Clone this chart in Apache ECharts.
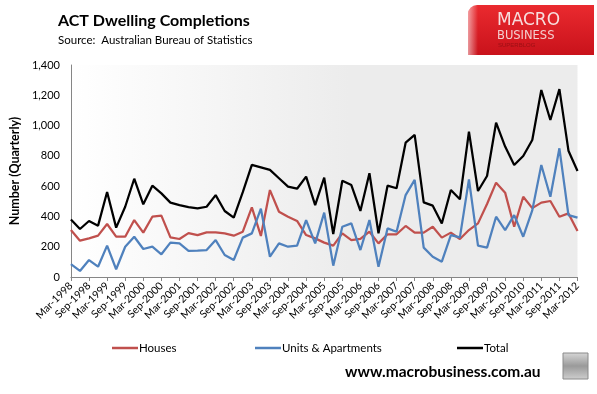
<!DOCTYPE html>
<html><head><meta charset="utf-8">
<script src="https://cdn.jsdelivr.net/npm/echarts@6/dist/echarts.min.js"></script>
<style>html,body{margin:0;padding:0;background:#fff}#c{width:597px;height:394px}</style>
</head><body><div id="c"></div>
<script>
const categories = ["Mar-1998","Jun-1998","Sep-1998","Dec-1998","Mar-1999","Jun-1999","Sep-1999","Dec-1999",
"Mar-2000","Jun-2000","Sep-2000","Dec-2000","Mar-2001","Jun-2001","Sep-2001","Dec-2001",
"Mar-2002","Jun-2002","Sep-2002","Dec-2002","Mar-2003","Jun-2003","Sep-2003","Dec-2003",
"Mar-2004","Jun-2004","Sep-2004","Dec-2004","Mar-2005","Jun-2005","Sep-2005","Dec-2005",
"Mar-2006","Jun-2006","Sep-2006","Dec-2006","Mar-2007","Jun-2007","Sep-2007","Dec-2007",
"Mar-2008","Jun-2008","Sep-2008","Dec-2008","Mar-2009","Jun-2009","Sep-2009","Dec-2009",
"Mar-2010","Jun-2010","Sep-2010","Dec-2010","Mar-2011","Jun-2011","Sep-2011","Dec-2011","Mar-2012"];
const houses = [310,240,255,273,350,266,266,376,293,398,405,262,251,290,
277,295,295,288,273,299,460,271,574,431,398,370,277,255,
227,207,288,244,251,299,222,282,282,337,293,293,332,260,
293,251,310,354,482,623,557,332,530,455,491,502,398,420,304];
const units = [85,40,112,68,207,51,200,266,185,200,150,227,222,172,
174,178,244,145,112,260,288,451,134,222,200,207,376,222,
425,75,332,354,178,376,68,321,299,541,641,194,134,101,
277,262,645,207,194,398,310,409,266,440,740,530,850,409,392];
const total = [380,317,370,339,561,326,464,649,480,603,552,491,475,462,
453,464,541,436,392,560,740,724,707,652,597,583,663,475,
656,284,636,607,436,685,289,603,586,887,938,493,471,354,
575,513,960,568,667,1019,861,740,799,905,1235,1037,1241,834,700];
const seriesNames = ["Houses","Units & Apartments","Total"];
const seriesColors = ["#c0504d","#4f81bd","#000000"];
const yTicks = {min:0, max:1400, interval:200};

const F = "Lato, 'Open Sans', sans-serif";
const chart = echarts.init(document.getElementById('c'), null, {renderer:'canvas'});
const legendLefts = [107, 250, 452];
chart.setOption({
  animation:false,
  backgroundColor:'#fff',
  title:{text:'ACT Dwelling Completions', subtext:'Source:  Australian Bureau of Statistics',
    left:53, top:8, itemGap:5,
    textStyle:{fontFamily:F, fontWeight:'bold', fontSize:16, color:'#000'},
    subtextStyle:{fontFamily:F, fontSize:11.5, color:'#000'}},
  legend: seriesNames.map((n,i)=>({data:[n], left:legendLefts[i], top:337, icon:'rect',
    itemWidth:26, itemHeight:2.5, textStyle:{fontFamily:F, fontSize:11.5, color:'#000', padding:[0,0,0,-4]}})),
  grid:{left:66.7, right:19.5, top:65, bottom:117, show:true, borderWidth:0,
    backgroundColor:new echarts.graphic.LinearGradient(0,0,1,0,[{offset:0,color:'#ffffff'},{offset:0.55,color:'#ececec'},{offset:1,color:'#ececec'}])},
  xAxis:{type:'category', data:categories, boundaryGap:false,
    axisLine:{lineStyle:{color:'#868686', width:1}},
    axisTick:{interval:1, length:4, lineStyle:{color:'#868686'}},
    axisLabel:{interval:1, rotate:45, margin:7, fontFamily:F, fontSize:10.5, color:'#000'},
    splitLine:{show:false}},
  yAxis:{type:'value', min:yTicks.min, max:yTicks.max, interval:yTicks.interval,
    name:'Number (Quarterly)', nameLocation:'middle', nameGap:47,
    nameTextStyle:{fontFamily:F, fontWeight:'bold', fontSize:12.5, color:'#000'},
    axisLine:{show:true, lineStyle:{color:'#868686', width:1}},
    axisTick:{show:false},
    axisLabel:{margin:11, fontFamily:F, fontSize:11, color:'#000',
      formatter:v=>v.toLocaleString('en-US')},
    splitLine:{show:false}},
  series:[houses, units, total].map((d,i)=>({name:seriesNames[i], type:'line', data:d,
    symbol:'none', lineStyle:{width:2.25, color:seriesColors[i]}, itemStyle:{color:seriesColors[i]}})),
  graphic:[
    {type:'rect', shape:{x:468, y:5, width:126, height:50, r:[9,0,0,0]},
      style:{fill:new echarts.graphic.LinearGradient(0,0,0,1,[{offset:0,color:'#ea2a2f'},{offset:1,color:'#c9121b'}])}},
    {type:'rect', shape:{x:468, y:5, width:10, height:50, r:[9,0,0,0]},
      style:{fill:new echarts.graphic.LinearGradient(0,0,1,0,[{offset:0,color:'rgba(255,255,255,0.55)'},{offset:1,color:'rgba(255,255,255,0)'}])}},
    {type:'text', x:497, y:12, style:{text:'MACRO', font:"17px 'DejaVu Sans'", fill:'#f7dede'}},
    {type:'text', x:497, y:30, style:{text:'BUSINESS', font:"11.5px 'DejaVu Sans'", fill:'#f3cfcf'}},
    {type:'text', x:498, y:42, style:{text:'SUPERBLOG', font:"6px 'Liberation Sans'", fill:'#9a0f14'}},
    {type:'text', x:345, y:364, style:{text:'www.macrobusiness.com.au', font:"bold 15.5px Lato", fill:'#000'}},
    {type:'rect', shape:{x:563, y:353, width:25, height:26},
      style:{fill:new echarts.graphic.LinearGradient(0,0,0,1,[{offset:0,color:'#d8d8d8'},{offset:0.5,color:'#9a9a9a'},{offset:1,color:'#cfcfcf'}]), stroke:'#8a8a8a', lineWidth:1}}
  ]
});
</script></body></html>
